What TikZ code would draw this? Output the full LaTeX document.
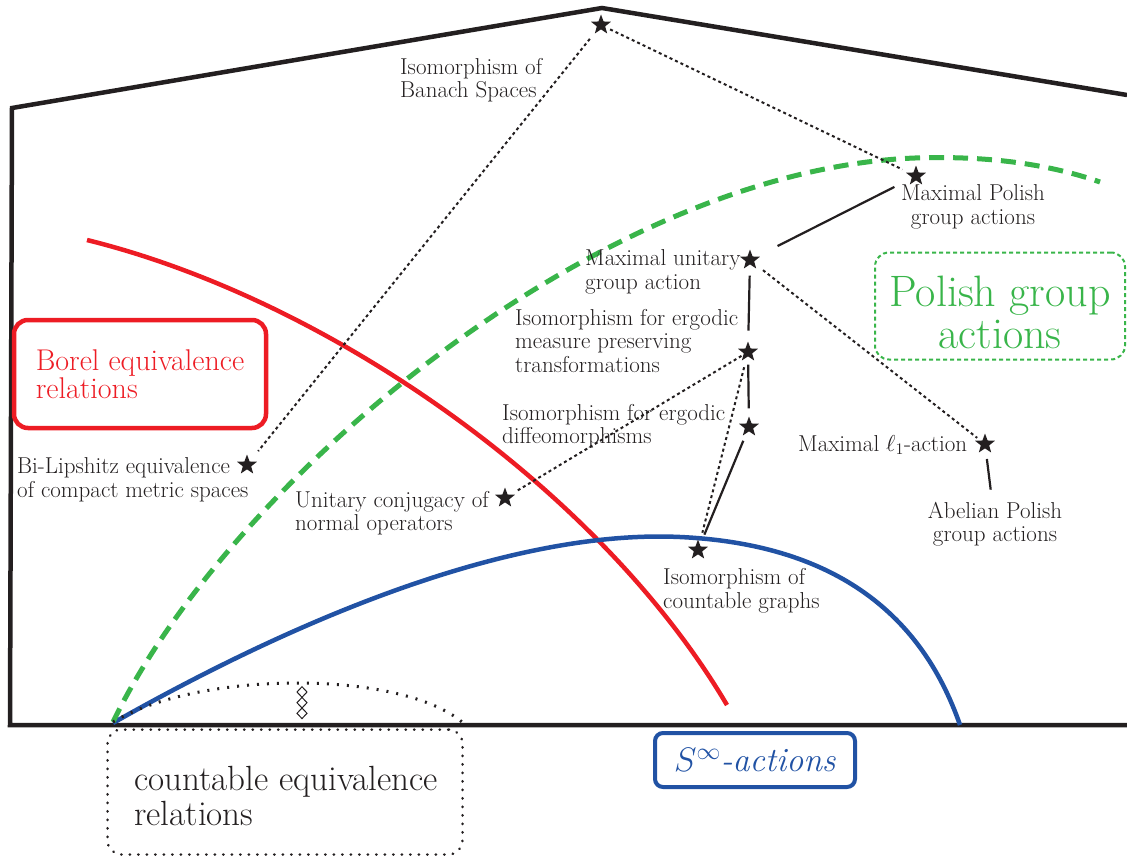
\RequirePackage{fix-cm}
\documentclass[tikz,border=0pt]{standalone}
\usetikzlibrary{shapes.geometric}
\definecolor{borelred}{RGB}{237,28,36}
\definecolor{sinfblue}{RGB}{33,82,164}
\definecolor{polishgreen}{RGB}{57,181,74}
\definecolor{ink}{RGB}{35,31,32}
\newcommand{\lblsize}{\fontsize{23}{23.5}\selectfont}
\begin{document}
\begin{tikzpicture}[x=1pt,y=-1pt,
    starnode/.style={star,star points=5,star point ratio=2.4,fill=ink,minimum size=21pt,inner sep=0pt},
    lbl/.style={font=\lblsize,text=ink,inner sep=0pt,align=left,anchor=west},
    dotline/.style={draw=ink,line width=2pt,dash pattern=on 3pt off 3pt},
    solidline/.style={draw=ink,line width=2.2pt},
    bigbox/.style={rounded corners=14pt,inner sep=0pt}]
  \useasboundingbox (0,0) rectangle (1127,856);
  % the outer frame
  \draw[ink,line width=4.5pt,line join=miter]
    (1127,725) -- (10,725) -- (12,108) -- (602,8) -- (1127,95);
  % the three curves
  \draw[borelred,line width=4.5pt] (87,240) .. controls (330,300) and (600,490) .. (727,705);
  \draw[sinfblue,line width=4.5pt] (113,723) .. controls (330,600) and (530,530) .. (680,537)
    .. controls (830,544) and (920,610) .. (960,725);
  \draw[polishgreen,line width=5pt,dash pattern=on 15pt off 9pt]
    (113,722) .. controls (230,480) and (600,170) .. (915,158)
    .. controls (1000,155) and (1060,168) .. (1100,182);
  \draw[ink,line width=3pt,dash pattern=on 2pt off 8pt]
    (113,722) .. controls (200,670) and (400,670) .. (462,722);
  \foreach \y in {692,702.7,713.3}
    \draw[ink,line width=1pt] (302,\y-5.3) -- (307,\y) -- (302,\y+5.3) -- (297,\y) -- cycle;
  % boxes
  \node[bigbox,draw=borelred,line width=4.5pt,text=borelred,font=\fontsize{30}{28}\selectfont,
    align=left,minimum width=252pt,minimum height=108pt] (borel) at (140,374)
    {Borel equivalence\\relations};
  \node[draw=polishgreen,bigbox,line width=2pt,dash pattern=on 4pt off 3pt,
    minimum width=250pt,minimum height=107pt] (polish) at (1000,306) {};
  \node[text=polishgreen,font=\fontsize{44}{42}\selectfont,align=center,inner sep=0pt]
    (polishtxt) at (1000,312) {Polish group\\actions};
  \node[draw=ink,bigbox,line width=2.5pt,line cap=round,dash pattern=on 0.5pt off 8pt,
    minimum width=355pt,minimum height=125pt] (countable) at (285,792) {};
  \node[text=ink,font=\fontsize{35}{35}\selectfont,align=left,inner sep=0pt]
    (countabletxt) at (286,796) {countable equivalence\\relations};
  \node[bigbox,rounded corners=8pt,draw=sinfblue,line width=4pt,text=sinfblue,
    font=\fontsize{34}{36}\selectfont,minimum width=200pt,minimum height=54pt]
    (sinf) at (755,760) {$S^{\infty}$\textit{-actions}};
  % stars
  \node[starnode] (banach) at (601,25) {};
  \node[starnode] (maxpolish) at (916,176) {};
  \node[starnode] (maxunitary) at (750,260) {};
  \node[starnode] (mpt) at (748,352) {};
  \node[starnode] (diffeo) at (749,427) {};
  \node[starnode] (unitconj) at (505,498) {};
  \node[starnode] (graphs) at (698,550) {};
  \node[starnode] (ellone) at (985,444) {};
  \node[starnode] (bilip) at (247,465) {};
  % labels
  \node[lbl] (banachlbl) at (400,80) {Isomorphism of\\Banach Spaces};
  \node[lbl,align=center,anchor=center] (maxpolishlbl) at (973,207) {Maximal Polish\\group actions};
  \node[lbl] (maxunitarylbl) at (585,272) {Maximal unitary\\group action};
  \node[lbl] (mptlbl) at (515,341) {Isomorphism for ergodic\\measure preserving\\transformations};
  \node[lbl] (diffeolbl) at (502,426) {Isomorphism for ergodic\\diffeomorphisms};
  \node[lbl] (biliplbl) at (17,480) {Bi-Lipshitz equivalence\\of compact metric spaces};
  \node[lbl] (unitconjlbl) at (295,513) {Unitary conjugacy of\\normal operators};
  \node[lbl] (graphslbl) at (663,591) {Isomorphism of\\countable graphs};
  \node[lbl] (ellonelbl) at (798,445) {Maximal $\ell_1$-action};
  \node[lbl,align=center,anchor=center] (abelianlbl) at (995,524) {Abelian Polish\\group actions};
  % connections
  \draw[dotline,shorten <=8pt,shorten >=13pt] (banach) -- (bilip);
  \draw[dotline,shorten <=5pt,shorten >=7pt] (banach) -- (maxpolish);
  \draw[solidline,shorten <=19pt,shorten >=23pt] (maxpolish) -- (maxunitary);
  \draw[solidline,shorten <=11pt,shorten >=11pt] (maxunitary) -- (mpt);
  \draw[solidline,shorten <=8pt,shorten >=8pt] (mpt) -- (diffeo);
  \draw[solidline,shorten <=8pt,shorten >=11pt] (diffeo) -- (graphs);
  \draw[dotline,shorten <=10pt,shorten >=11pt] (mpt) -- (graphs);
  \draw[dotline,shorten <=2pt,shorten >=5pt] (mpt) -- (unitconj);
  \draw[dotline,shorten <=10pt,shorten >=4pt] (maxunitary) -- (ellone);
  \draw[solidline,shorten <=10pt,shorten >=12pt] (ellone) -- (abelianlbl);
\end{tikzpicture}
\end{document}
